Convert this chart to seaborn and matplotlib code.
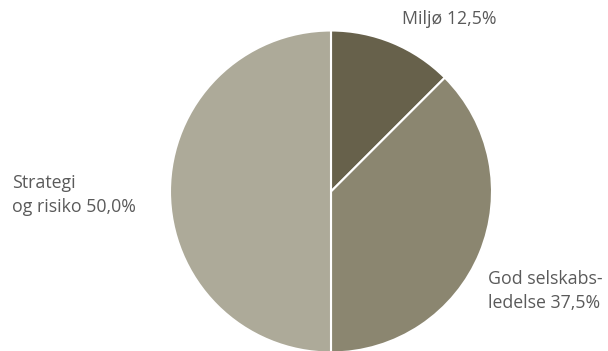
import matplotlib
matplotlib.use("Agg")
import matplotlib.pyplot as plt
import seaborn as sns

categories = ["Miljø", "God selskabsledelse", "Strategi og risiko"]
shares = [12.5, 37.5, 50.0]
labels = ["Miljø 12,5%", "God selskabs-\nledelse 37,5%", "Strategi\nog risiko 50,0%"]
colors = ["#67614b", "#8b8670", "#adaa99"]

sns.set_theme(style="white")
plt.rcParams["font.family"] = ["Open Sans", "DejaVu Sans"]

W, H = 608, 351
fig = plt.figure(figsize=(W / 100, H / 100), dpi=100)
ax = fig.add_axes([0, 0, 1, 1])

cx, cy, r = 331, H - 191.5, 161
ax.pie(shares, colors=colors, startangle=90, counterclock=False,
       center=(cx, cy), radius=r, frame=True,
       wedgeprops=dict(edgecolor="white", linewidth=1.5))
ax.set_xlim(0, W)
ax.set_ylim(0, H)
ax.set_aspect("equal")
ax.axis("off")

text_kw = dict(fontsize=12.8, color="#5a5a5a", linespacing=1.45)
ax.text(402, H - 19, labels[0], ha="left", va="center", **text_kw)
ax.text(488, H - 291, labels[1], ha="left", va="center", **text_kw)
ax.text(12, H - 195, labels[2], ha="left", va="center", **text_kw)

fig.savefig("out.png", dpi=100)
